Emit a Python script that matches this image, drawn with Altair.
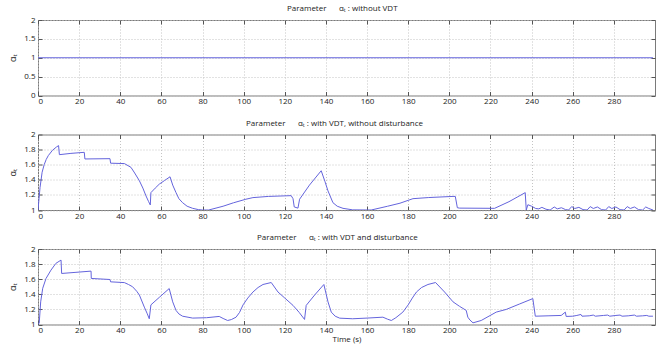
import altair as alt
import pandas as pd

# ---------------- data ----------------
x_ticks = list(range(0, 300, 20))
y_ticks_top = [0, 0.5, 1, 1.5, 2]
y_ticks_vdt = [1, 1.2, 1.4, 1.6, 1.8, 2]

t_novdt = [0, 299]
a_novdt = [1, 1]

t_vdt = [0, 0.5, 1, 2, 3, 4, 5, 7, 9, 10.0, 10.4, 16, 22.5, 22.8, 35, 35.3, 42, 45.2,
         47, 49.3, 51, 52.5, 53.8, 54.6, 54.9, 57, 59, 61.5, 64.2, 65.5, 67.1, 68.5,
         70.3, 72.5, 75.2, 78, 80, 83, 90, 95, 101.1, 104.5, 112, 123.1, 124, 124.6,
         126.4, 127.2, 132, 137.7, 139.5, 141, 143.4, 145.5, 148.3, 153, 162, 170, 176,
         182.3, 190, 201.8, 202.9, 203.9, 205, 222, 229, 236.9, 237.4, 238.2, 240, 242,
         243.5, 245, 247, 249, 251, 252.5, 254.5, 256.5, 258, 259.5, 261, 263, 265, 267,
         268.5, 270, 272, 274, 276, 277.5, 279, 281, 283, 285, 286.5, 288, 290, 292, 294,
         295.5, 297, 299]
a_vdt = [1.0, 1.15, 1.3, 1.5, 1.6, 1.67, 1.72, 1.79, 1.835, 1.853, 1.733, 1.75, 1.764,
         1.676, 1.68, 1.62, 1.615, 1.565, 1.49, 1.387, 1.29, 1.187, 1.11, 1.067, 1.23,
         1.29, 1.343, 1.39, 1.44, 1.33, 1.23, 1.15, 1.097, 1.05, 1.022, 1.005, 1.0, 1.0,
         1.05, 1.095, 1.143, 1.164, 1.18, 1.19, 1.15, 1.04, 1.025, 1.143, 1.33, 1.52,
         1.38, 1.253, 1.097, 1.05, 1.022, 1.002, 1.0, 1.05, 1.09, 1.15, 1.165, 1.18, 1.18,
         1.03, 1.025, 1.022, 1.11, 1.23, 1.0, 1.07, 1.05, 1.02, 1.015, 1.035, 1.01, 1.0,
         1.04, 1.015, 1.03, 1.005, 1.0, 1.045, 1.02, 1.035, 1.005, 1.0, 1.045, 1.02, 1.04,
         1.005, 1.0, 1.045, 1.02, 1.04, 1.005, 1.0, 1.045, 1.02, 1.04, 1.005, 1.0, 1.04,
         1.02, 1.0]

t_dist = [0, 0.6, 1.3, 2.3, 3.9, 6.3, 8.7, 11.2, 11.5, 18, 25.8, 25.9, 35, 35.3, 42, 44,
          46, 48, 49.3, 51.7, 53, 54.1, 54.9, 59, 63.8, 65.5, 67.1, 68.5, 70.3, 75.2, 82,
          88.1, 90, 92.2, 94, 96.3, 98, 99.7, 102, 104.5, 107, 109.4, 113.4, 116.7, 120,
          124, 127, 129.6, 130.4, 134.5, 139, 141, 142.6, 144.5, 146.7, 153, 160, 167.7,
          170, 171.8, 174, 177.4, 180, 182, 184, 186.5, 189.6, 193.3, 197.7, 201.8, 205,
          208.2, 209, 210, 211.5, 215.5, 222.8, 227.7, 234, 240.6, 241.8, 248, 254.4,
          256.4, 256.8, 260, 262, 264, 264.5, 268, 270, 271, 275, 277, 278, 281, 283, 284,
          287, 290, 291, 294, 296, 297, 299]
a_dist = [1.0, 1.02, 1.3, 1.48, 1.61, 1.72, 1.81, 1.853, 1.676, 1.69, 1.707, 1.61, 1.596,
          1.565, 1.555, 1.53, 1.5, 1.44, 1.39, 1.23, 1.15, 1.076, 1.26, 1.36, 1.476, 1.3,
          1.187, 1.14, 1.11, 1.085, 1.09, 1.107, 1.08, 1.053, 1.065, 1.097, 1.16, 1.26,
          1.35, 1.43, 1.49, 1.53, 1.556, 1.43, 1.35, 1.253, 1.16, 1.067, 1.253, 1.39,
          1.53, 1.3, 1.164, 1.11, 1.084, 1.076, 1.085, 1.097, 1.07, 1.053, 1.09, 1.164,
          1.26, 1.35, 1.43, 1.49, 1.53, 1.556, 1.43, 1.3, 1.24, 1.187, 1.097, 1.06, 1.022,
          1.053, 1.164, 1.2, 1.27, 1.343, 1.11, 1.115, 1.12, 1.164, 1.107, 1.11, 1.12,
          1.133, 1.11, 1.115, 1.125, 1.11, 1.12, 1.125, 1.11, 1.12, 1.125, 1.11, 1.115,
          1.125, 1.11, 1.115, 1.12, 1.11, 1.11]

titles = [
    "Parameter\u00a0\u00a0\u00a0\u00a0\u00a0\u00a0\u03b1\u209c : without VDT",
    "Parameter\u00a0\u00a0\u00a0\u00a0\u00a0\u00a0\u03b1\u209c : with VDT, without disturbance",
    "Parameter\u00a0\u00a0\u00a0\u00a0\u00a0\u00a0\u03b1\u209c : with VDT and disturbance",
]
y_title = "\u03b1\u209c"
x_title = "Time (s)"

# ---------------- style ----------------
LINE = "#6464dc"
FONT = "Open Sans"
TXT = "#222222"
W = 617
H = 75.5


def panel(t, a, ydom, yticks, title, dx, show_xtitle=False):
    df = pd.DataFrame({"t": t, "a": a})
    base = alt.Chart(df)
    xs = alt.Scale(domain=[0, 300], nice=False, zero=False)
    ys = alt.Scale(domain=ydom, nice=False, zero=False)
    xaxis_kw = dict(values=x_ticks, orient="bottom", offset=-4, tickSize=4,
                    tickColor="#555555", domain=False, grid=True, gridDash=[1, 2],
                    gridColor="#c4c4c4", labelPadding=2, labelFontSize=8,
                    labelColor=TXT, labelFont=FONT)
    if show_xtitle:
        xaxis_kw.update(title=x_title, titleFontSize=8, titleFont=FONT,
                        titleFontWeight="normal", titleColor=TXT, titlePadding=1)
    else:
        xaxis_kw.update(title=None)
    main = base.mark_line(color=LINE, strokeWidth=1, clip=True).encode(
        x=alt.X("t:Q", scale=xs, axis=alt.Axis(**xaxis_kw)),
        y=alt.Y("a:Q", scale=ys, axis=alt.Axis(
            values=yticks, format="~g", orient="left", offset=-4, tickSize=4,
            tickColor="#555555", domain=False, grid=True, gridDash=[1, 2],
            gridColor="#c4c4c4", labelPadding=3, labelFontSize=8, labelColor=TXT,
            labelFont=FONT, title=y_title, titleFontSize=9, titleFont=FONT,
            titleFontWeight="normal", titleColor=TXT, titlePadding=6)),
    )
    ghost = base.mark_line(opacity=0).encode(
        x=alt.X("t:Q", scale=xs, axis=alt.Axis(
            values=x_ticks, orient="top", offset=-4, tickSize=4, tickColor="#555555",
            labels=False, domain=False, grid=False, title=None)),
        y=alt.Y("a:Q", scale=ys, axis=alt.Axis(
            values=yticks, orient="right", offset=-4, tickSize=4, tickColor="#555555",
            labels=False, domain=False, grid=False, title=None)),
    )
    return alt.layer(main, ghost).resolve_axis(x="independent", y="independent").properties(
        width=W, height=H,
        title=alt.TitleParams(title, anchor="start", frame="group", dx=dx, fontSize=8,
                              font=FONT, fontWeight="normal", color=TXT, offset=3),
    )


p1 = panel(t_novdt, a_novdt, [0, 2], y_ticks_top, titles[0], 249)
p2 = panel(t_vdt, a_vdt, [1, 2], y_ticks_vdt, titles[1], 208)
p3 = panel(t_dist, a_dist, [1, 2], y_ticks_vdt, titles[2], 219, show_xtitle=True)

chart = alt.vconcat(p1, p2, p3, spacing=38.5, bounds="flush").properties(
    padding={"left": 8, "top": 4, "right": 10, "bottom": 2},
    background="white",
).configure_view(stroke="#7a7a7a", strokeWidth=1)

chart.save("out.html", embed_options={"renderer": "svg", "actions": False})
